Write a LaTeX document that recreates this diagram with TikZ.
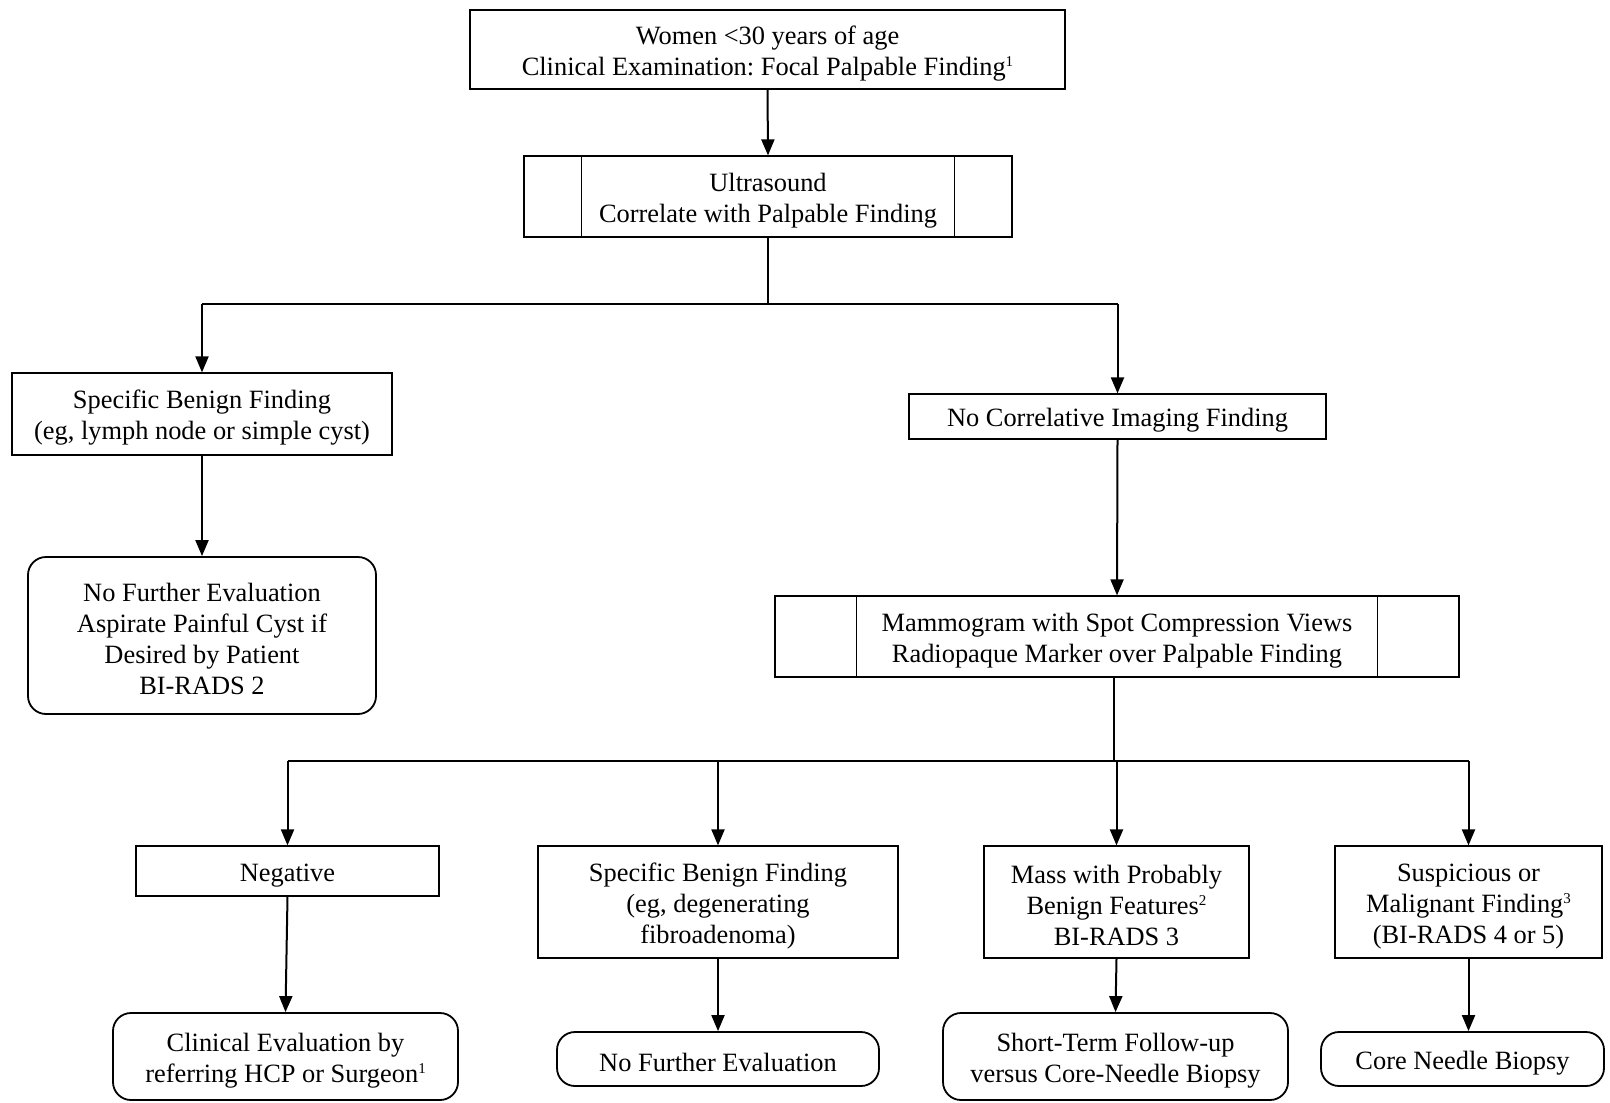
\documentclass[tikz,border=0pt]{standalone}
\usepackage{fontspec}
\setmainfont{Liberation Serif}
\usetikzlibrary{arrows.meta,calc}
\frenchspacing
\newcommand{\fnsup}[1]{\raisebox{0.75ex}{\fontsize{7.5}{8}\selectfont #1}}
\newcommand{\fl}{\rule{0pt}{13pt}}
\begin{document}
\begin{tikzpicture}[x=0.5pt,y=-0.5pt,
  box/.style={draw, line width=0.6pt, rectangle, align=center, inner sep=0pt,
    font=\fontsize{13.2}{15.5}\selectfont},
  rbox/.style={box, rounded corners=9pt, line width=0.9pt},
  sz/.style 2 args={minimum width=#1*0.5pt, minimum height=#2*0.5pt},
  arr/.style={line width=1pt, -{Triangle[width=6.5pt,length=8pt]}},
  ln/.style={line width=1pt}]
\useasboundingbox (0,0) rectangle (1610,1102);
% nodes
\node[box, sz={595}{79}] (top) at (767.5,49.5) {\fl Women <30 years of age\\Clinical Examination: Focal Palpable Finding\fnsup{1}};
\node[box, sz={488}{81}] (us) at (768,196.5) {\fl Ultrasound\\Correlate with Palpable Finding};
\node[box, sz={380}{82}] (sb1) at (202,414) {\fl Specific Benign Finding\\(eg, lymph node or simple cyst)};
\node[box, sz={417}{45}] (nc) at (1117.5,416.5) {\fl No Correlative Imaging Finding};
\node[rbox, sz={348}{157}] (nfe1) at (202,635.5) {\fl No Further Evaluation\\Aspirate Painful Cyst if\\Desired by Patient\\BI-RADS 2};
\node[box, sz={684}{81}] (mam) at (1117,636.5) {\fl Mammogram with Spot Compression Views\\Radiopaque Marker over Palpable Finding};
\node[box, sz={303}{50}] (neg) at (287.5,871) {\fl Negative};
\node[box, sz={360}{112}] (sb2) at (718,902) {\fl Specific Benign Finding\\(eg, degenerating\\fibroadenoma)};
\node[box, sz={265}{112}] (mass) at (1116.5,902) {\fl Mass with Probably\\Benign Features\fnsup{2}\\BI-RADS 3};
\node[box, sz={267}{112}] (susp) at (1468.5,902) {\fl Suspicious or\\Malignant Finding\fnsup{3}\\(BI-RADS 4 or 5)};
\node[rbox, sz={345}{87}] (clin) at (285.5,1056.5) {\fl Clinical Evaluation by\\referring HCP or Surgeon\fnsup{1}};
\node[rbox, sz={322}{54}] (nfe2) at (718,1059) {\fl No Further Evaluation};
\node[rbox, sz={345}{87}] (st) at (1115.5,1056.5) {\fl Short-Term Follow-up\\versus Core-Needle Biopsy};
\node[rbox, sz={283}{54}] (cnb) at (1462.5,1059) {\fl Core Needle Biopsy};
% double-sided process lines
\foreach \n/\o in {us/58, mam/82}{
  \draw[line width=0.6pt] ($(\n.north west)+(\o,0)$) -- ($(\n.south west)+(\o,0)$);
  \draw[line width=0.6pt] ($(\n.north east)+(-\o,0)$) -- ($(\n.south east)+(-\o,0)$);
}
% connectors
\draw[arr] (top.south) -- (us.north);
\coordinate (b1) at (768,304);
\draw[ln] (us.south) -- (b1);
\draw[ln] (b1 -| sb1.north) -- (b1 -| nc.north);
\draw[arr] (b1 -| sb1.north) -- (sb1.north);
\draw[arr] (b1 -| nc.north) -- (nc.north);
\draw[arr] (sb1.south) -- (nfe1.north);
\draw[arr] (nc.south) -- (mam.north);
\coordinate (b2) at (1114,761);
\draw[ln] (mam.south -| b2) -- (b2);
\draw[ln] (b2 -| neg.north) -- (b2 -| susp.north);
\foreach \n in {neg, sb2, mass, susp}{
  \draw[arr] (b2 -| \n.north) -- (\n.north);
}
\draw[arr] (neg.south) -- (clin.north);
\draw[arr] (sb2.south) -- (nfe2.north);
\draw[arr] (mass.south) -- (st.north);
\draw[arr] (susp.south) -- (susp.south |- cnb.north);
\end{tikzpicture}
\end{document}
